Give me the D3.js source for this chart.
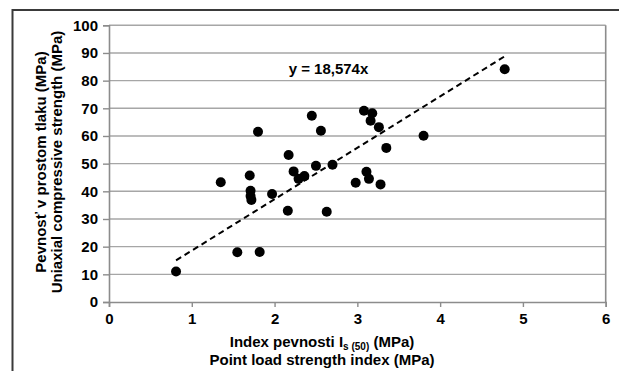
<!DOCTYPE html>
<html>
<head>
<meta charset="utf-8">
<script src="https://cdn.jsdelivr.net/npm/d3@7"></script>
<style>
  body { margin: 0; background: #fff; }
  text { font-family: "Liberation Sans", Arial, sans-serif; font-weight: bold; fill: #000; }
</style>
</head>
<body>
<div id="chart"></div>
<script>
// data
var indexIs50 = [0.81, 1.35, 1.55, 1.70, 1.71, 1.71, 1.72, 1.80, 1.82, 1.97,
    2.16, 2.17, 2.23, 2.29, 2.36, 2.45, 2.50, 2.56, 2.63, 2.70,
    2.98, 3.08, 3.11, 3.14, 3.16, 3.18, 3.26, 3.28, 3.35, 3.80, 4.78];
var ucs = [11.0, 43.3, 18.0, 45.7, 40.2, 38.3, 36.9, 61.5, 18.1, 39.0,
    33.0, 53.1, 47.2, 44.5, 45.5, 67.3, 49.2, 61.9, 32.6, 49.6,
    43.1, 69.1, 47.1, 44.5, 65.5, 68.2, 63.2, 42.5, 55.7, 60.1, 84.1];
var slope = 18.574;
var xTicks = [0, 1, 2, 3, 4, 5, 6];
var yTicks = [0, 10, 20, 30, 40, 50, 60, 70, 80, 90, 100];
var equationLabel = "y = 18,574x";

var svgWidth = 619;
var svgHeight = 371;

var margin = {
    top: 25.3,
    right: 13.3,
    bottom: 69,
    left: 109
};

var width = svgWidth - margin.left - margin.right;
var height = svgHeight - margin.top - margin.bottom;

var fontSize = "15px";

var svg = d3.select("#chart")
    .append("svg")
    .attr("width", svgWidth)
    .attr("height", svgHeight);

svg.append("rect")
    .attr("width", svgWidth)
    .attr("height", svgHeight)
    .attr("fill", "#fff");

// outer chart frame (only left and top visible)
svg.append("path")
    .attr("d", `M12.5,${svgHeight} V10 H${svgWidth}`)
    .attr("fill", "none")
    .attr("stroke", "#3a3a3a")
    .attr("stroke-width", 2);

var chartGroup = svg.append("g")
    .attr("transform", `translate(${margin.left}, ${margin.top})`);

var xScale = d3.scaleLinear().domain([0, 6]).range([0, width]);
var yScale = d3.scaleLinear().domain([0, 100]).range([height, 0]);

// horizontal gridlines
chartGroup.selectAll(".grid")
    .data(yTicks.slice(1))
    .enter()
    .append("line")
    .attr("x1", 0)
    .attr("x2", width)
    .attr("y1", d => yScale(d))
    .attr("y2", d => yScale(d))
    .attr("stroke", "#a6a6a6")
    .attr("stroke-width", 1.4);

// right border of plot area
chartGroup.append("line")
    .attr("x1", width).attr("x2", width)
    .attr("y1", 0).attr("y2", height)
    .attr("stroke", "#8c8c8c")
    .attr("stroke-width", 1.6);

// axes
var bottomAxis = d3.axisBottom(xScale).tickValues(xTicks).tickFormat(d3.format("d"))
    .tickSize(5).tickPadding(6);
var leftAxis = d3.axisLeft(yScale).tickValues(yTicks).tickFormat(d3.format("d"))
    .tickSize(6).tickPadding(5);

var xAxis = chartGroup.append("g")
    .attr("transform", `translate(0, ${height})`)
    .call(bottomAxis);

var yAxis = chartGroup.append("g")
    .call(leftAxis);

[xAxis, yAxis].forEach(function(ax) {
    ax.select(".domain").attr("stroke", "#8c8c8c").attr("stroke-width", 1.6);
    ax.selectAll(".tick line").attr("stroke", "#8c8c8c").attr("stroke-width", 1.4);
    ax.selectAll(".tick text")
        .style("font-family", "'Liberation Sans', Arial, sans-serif")
        .style("font-weight", "bold")
        .style("font-size", fontSize)
        .attr("fill", "#000");
});

// trend line through origin, drawn across the data range
var xExtent = d3.extent(indexIs50);
var trend = xExtent.map(d => [d, slope * d]);
chartGroup.append("path")
    .datum(trend)
    .attr("d", d3.line().x(d => xScale(d[0])).y(d => yScale(d[1])))
    .attr("fill", "none")
    .attr("stroke", "#000")
    .attr("stroke-width", 2)
    .attr("stroke-dasharray", "6,4");

// points
chartGroup.selectAll("circle")
    .data(indexIs50)
    .enter()
    .append("circle")
    .attr("cx", d => xScale(d))
    .attr("cy", (d, i) => yScale(ucs[i]))
    .attr("r", 5)
    .attr("fill", "#000");

// equation
chartGroup.append("text")
    .attr("x", xScale(2.17))
    .attr("y", yScale(82.5))
    .style("font-size", fontSize)
    .text(equationLabel);

// y axis title, two lines
var yTitle = svg.append("g")
    .attr("transform", "translate(0, 162) rotate(-90)");
yTitle.append("text")
    .attr("x", 0).attr("y", 45.5)
    .attr("text-anchor", "middle")
    .style("font-size", fontSize)
    .text("Pevnosť v prostom tlaku (MPa)");
yTitle.append("text")
    .attr("x", 0).attr("y", 62)
    .attr("text-anchor", "middle")
    .style("font-size", fontSize)
    .text("Uniaxial compressive strength (MPa)");

// x axis title, two lines with subscript
var xTitle1 = svg.append("text")
    .attr("x", 322).attr("y", 347)
    .attr("text-anchor", "middle")
    .style("font-size", fontSize);
xTitle1.append("tspan").text("Index pevnosti I");
xTitle1.append("tspan").attr("dy", 3).style("font-size", "10px").text("s (50)");
xTitle1.append("tspan").attr("dy", -3).text(" (MPa)");

svg.append("text")
    .attr("x", 322).attr("y", 365)
    .attr("text-anchor", "middle")
    .style("font-size", fontSize)
    .text("Point load strength index (MPa)");
</script>
</body>
</html>
